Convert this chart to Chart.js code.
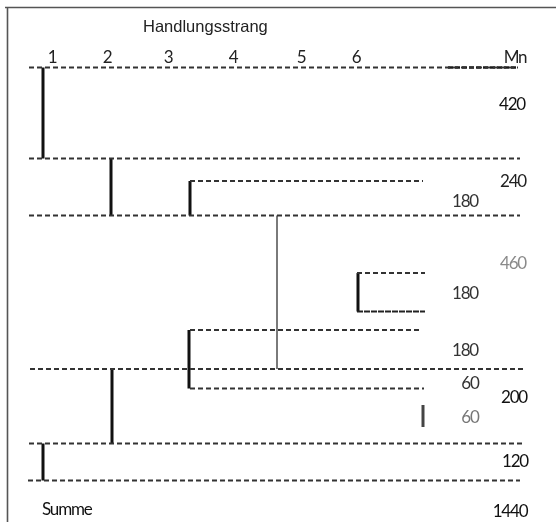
<!DOCTYPE html>
<html>
<head>
<meta charset="utf-8">
<script src="https://cdn.jsdelivr.net/npm/chart.js@4"></script>
<style>
  html, body { margin: 0; padding: 0; background: #fff; }
  #wrap { width: 556px; height: 522px; }
</style>
</head>
<body>
<div id="wrap"><canvas id="strandChart" width="556" height="522"></canvas></div>
<script>
// schematic units: x and y both in tenths of the sheet (1 unit = 10 px)
const strandLabels = ['1', '2', '3', '4', '5', '6', 'Mn'];
const strandLabelX = [5.2, 10.7, 16.8, 23.3, 30.1, 35.6, 51.5];

// dashed time boundaries
const lineY     = [6.75, 15.85, 18.1, 21.55, 27.3, 31.15, 33.0, 36.9, 38.85, 44.35, 48.05];
const lineStart = [2.9, 2.9, 19.0, 2.9, 35.7, 35.7, 19.0, 3.0, 19.0, 2.9, 2.8];
const lineEnd   = [51.8, 52.0, 42.3, 52.0, 42.5, 42.5, 42.2, 52.3, 42.4, 52.3, 52.0];

// strand bars (vertical)
const barX      = [4.3, 11.1, 19.0, 27.7, 35.8, 18.9, 11.2, 42.3, 4.3];
const barTop    = [6.75, 15.85, 18.1, 21.55, 27.3, 33.0, 36.9, 40.5, 44.35];
const barBottom = [15.85, 21.55, 21.55, 36.9, 31.15, 38.85, 44.35, 42.7, 48.05];

// minutes per section
const minuteValues = ['420', '240', '180', '460', '180', '180', '60', '200', '60', '120', '1440'];
const minuteX      = [51.2, 51.3, 46.5, 51.3, 46.5, 46.5, 47.0, 51.4, 47.0, 51.5, 51.0];
const minuteY      = [10.5, 18.2, 20.2, 26.4, 29.4, 35.1, 38.4, 39.8, 41.8, 46.2, 51.2];
const minuteColor  = ['#111', '#222', '#333', '#8a8a8a', '#333', '#333', '#333', '#111', '#777', '#111', '#111'];

const narrow = 'Lato, "Liberation Sans Narrow", sans-serif';

const datasets = [];
lineY.forEach((y, i) => {
  datasets.push({
    data: [{ x: lineStart[i], y: y }, { x: lineEnd[i], y: y }],
    borderColor: i === 5 ? '#222' : '#333',
    borderWidth: i === 5 ? 2.2 : 1.8,
    borderDash: i === 5 ? [6, 1] : [5, 3],
    pointRadius: 0
  });
});
// heavier dash under "Mn"
datasets.push({
  data: [{ x: 44.8, y: lineY[0] }, { x: 51.6, y: lineY[0] }],
  borderColor: '#1a1a1a', borderWidth: 2.4, borderDash: [5, 2], pointRadius: 0
});
barX.forEach((x, i) => {
  let color = '#111', width = 3;
  if (i === 3) { color = '#7a7a7a'; width = 2; }
  if (i === 7) { color = '#444'; width = 3; }
  datasets.push({
    data: [{ x: x, y: barTop[i] }, { x: x, y: barBottom[i] }],
    borderColor: color, borderWidth: width, pointRadius: 0, borderCapStyle: 'butt'
  });
});

const textPlugin = {
  id: 'texts',
  beforeDraw(chart) {
    const ctx = chart.ctx;
    ctx.save();
    ctx.fillStyle = '#fff';
    ctx.fillRect(0, 0, chart.width, chart.height);
    ctx.strokeStyle = '#555';
    ctx.lineWidth = 1.6;
    ctx.beginPath();
    ctx.moveTo(5, 7.5); ctx.lineTo(556, 7.5);
    ctx.moveTo(7.5, 7); ctx.lineTo(7.5, 522);
    ctx.stroke();
    ctx.restore();
  },
  afterDatasetsDraw(chart) {
    const ctx = chart.ctx;
    const xs = chart.scales.x, ys = chart.scales.y;
    ctx.save();
    ctx.textBaseline = 'middle';
    ctx.textAlign = 'left';
    ctx.fillStyle = '#222';
    ctx.font = '16.5px "Liberation Sans", Arial, sans-serif';
    ctx.fillText('Handlungsstrang', xs.getPixelForValue(14.3), ys.getPixelForValue(2.75));
    ctx.textAlign = 'center';
    ctx.font = '17px ' + narrow;
    ctx.letterSpacing = '-1.2px';
    strandLabels.forEach((t, i) => {
      ctx.fillText(t, xs.getPixelForValue(strandLabelX[i]), ys.getPixelForValue(5.8));
    });
    minuteValues.forEach((t, i) => {
      ctx.fillStyle = minuteColor[i];
      ctx.fillText(t, xs.getPixelForValue(minuteX[i]), ys.getPixelForValue(minuteY[i]));
    });
    ctx.textAlign = 'left';
    ctx.fillStyle = '#111';
    ctx.fillText('Summe', xs.getPixelForValue(4.2), ys.getPixelForValue(51.0));
    ctx.restore();
  }
};

new Chart(document.getElementById('strandChart'), {
  type: 'line',
  data: { datasets: datasets },
  options: {
    responsive: false,
    animation: false,
    layout: { padding: 0 },
    plugins: { legend: { display: false }, tooltip: { enabled: false } },
    scales: {
      x: { type: 'linear', display: false, min: 0, max: 55.6 },
      y: { type: 'linear', display: false, min: 0, max: 52.2, reverse: true }
    }
  },
  plugins: [textPlugin]
});
</script>
</body>
</html>
